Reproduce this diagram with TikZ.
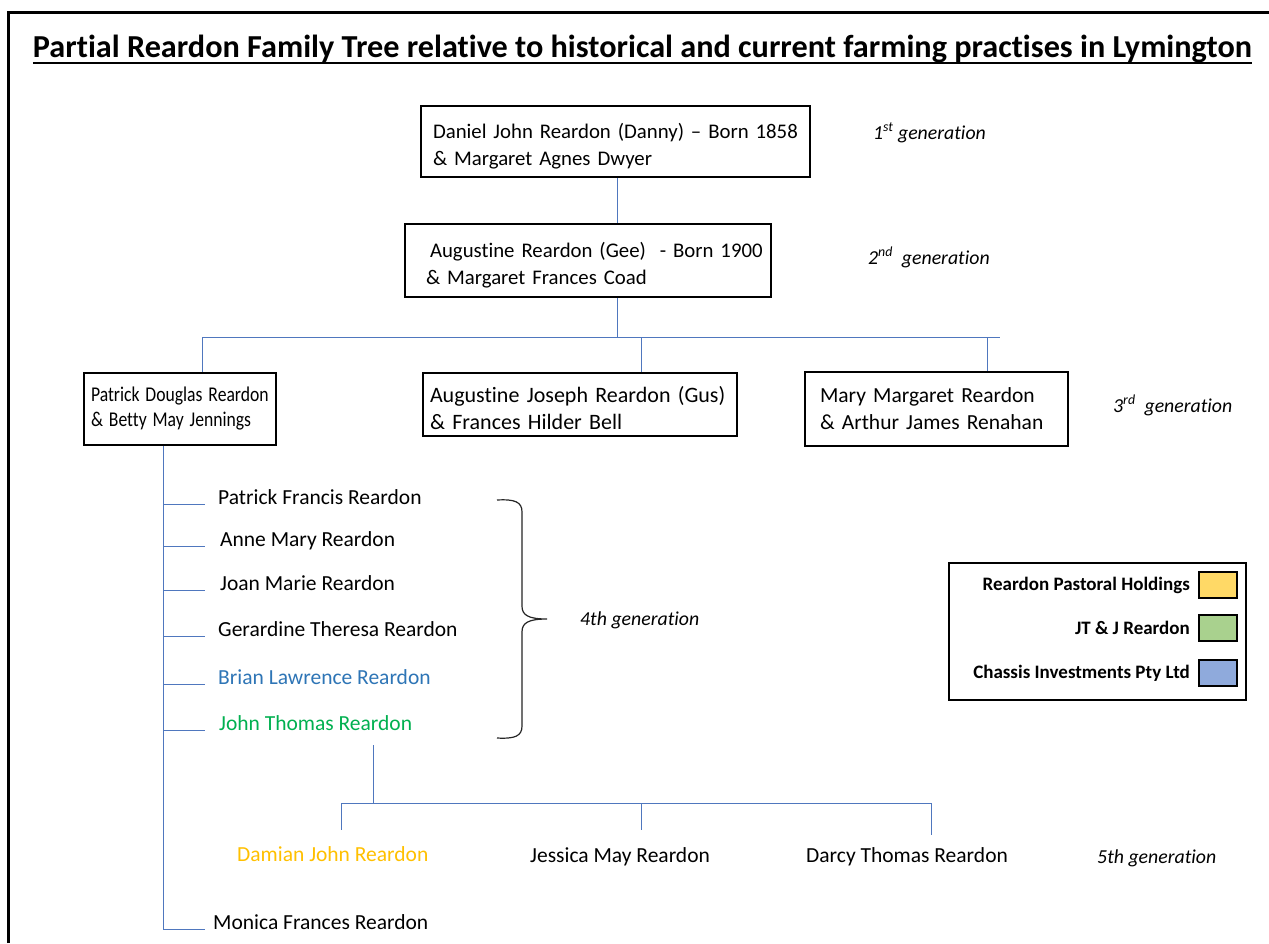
\documentclass[tikz,border=0pt]{standalone}
\usepackage{fontspec}
\setmainfont{Carlito}[Ligatures={TeX,NoCommon}]
\usepackage{graphicx}
\definecolor{linec}{HTML}{4F77BE}
\definecolor{brianc}{HTML}{2E75B6}
\definecolor{johnc}{HTML}{00B050}
\definecolor{damianc}{HTML}{FFC000}
\definecolor{swY}{HTML}{FFD966}
\definecolor{swG}{HTML}{A9D18E}
\definecolor{swB}{HTML}{8FAADC}
\tikzset{
  famline/.style={draw=linec, line width=1pt},
  box/.style={draw=black, line width=1.6pt, rectangle, align=left, inner ysep=0pt,
    font=\fontsize{21.5pt}{27pt}\selectfont},
  person/.style={anchor=base west, inner sep=0pt, font=\fontsize{21.5pt}{27pt}\selectfont},
  gen/.style={anchor=base west, inner sep=0pt, font=\fontsize{19.8pt}{24pt}\selectfont\itshape},
  legtext/.style={anchor=east, inner sep=0pt, font=\fontsize{19pt}{23pt}\selectfont\bfseries},
  swatch/.style={draw=black, line width=1.2pt, minimum width=38pt, minimum height=26pt, inner sep=0pt}
}
\begin{document}
\begin{tikzpicture}[x=1pt,y=-1pt]
\useasboundingbox (0,0) rectangle (1269,943);
\fill[white] (0,0) rectangle (1269,943);
% outer frame
\draw[line width=3pt] (8,943) -- (8,12) -- (1269,12);

% title
\node[anchor=base, inner sep=0pt] (title) at (642.5,57)
  {\resizebox{1219pt}{\height}{\fontsize{32pt}{38pt}\selectfont\bfseries Partial Reardon Family Tree relative to historical and current farming practises in Lymington}};
\draw[line width=1.8pt] ([yshift=-6pt]title.base west) -- ([yshift=-6pt]title.base east);

% generation 1 and 2
\node[box, text width=365pt, inner xsep=12pt, minimum height=71pt, font=\fontsize{20.8pt}{27pt}\selectfont] (g1) at (615.5,141.5)
  {\mbox{\rule{0pt}{24pt}Daniel John Reardon (Danny) – Born 1858}\\\mbox{\& Margaret Agnes Dwyer}};
\node[box, text width=324pt, inner xsep=21pt, minimum height=73pt, font=\fontsize{20.8pt}{27pt}\selectfont] (g2) at (588,260.5)
  {\mbox{\rule{0pt}{24pt}\hspace*{4pt}Augustine Reardon (Gee)\ \ - Born 1900}\\\mbox{\& Margaret Frances Coad}};

\node[gen] (gen1) at (873,139) {1\textsuperscript{st} generation};
\node[gen] (gen2) at (868,264) {2\textsuperscript{nd}\ \ generation};

% generation 3
\node[box, text width=178pt, inner xsep=7pt, minimum height=72pt, font=\fontsize{21pt}{25pt}\selectfont] (c3a) at (180,409)
  {\scalebox{0.84}[1]{Patrick Douglas Reardon}\\\scalebox{0.84}[1]{\& Betty May Jennings}};
\node[box, text width=300pt, inner xsep=7pt, minimum height=63pt, font=\fontsize{22pt}{27pt}\selectfont] (c3b) at (580,404.5)
  {\mbox{\rule{0pt}{22.5pt}Augustine Joseph Reardon (Gus)}\\\mbox{\& Frances Hilder Bell}};
\node[box, text width=233pt, inner xsep=15pt, minimum height=74pt] (c3c) at (936.5,409)
  {\mbox{Mary Margaret Reardon}\\\mbox{\& Arthur James Renahan}};
\node[gen] (gen3) at (1113,412) {3\textsuperscript{rd}\ \ generation};

% connectors gen1-gen3
\coordinate (bus) at (617,337);
\coordinate (busL) at (202,337);
\coordinate (busM) at (641,337);
\coordinate (busR) at (987,337);
\coordinate (busE) at (1000,337);
\draw[famline] (bus |- g1.south) -- (bus |- g2.north);
\draw[famline] (bus |- g2.south) -- (bus);
\draw[famline] (busL) -- (busE);
\draw[famline] (busL) -- (busL |- c3a.north);
\draw[famline] (busM) -- (busM |- c3b.north);
\draw[famline] (busR) -- (busR |- c3c.north);

% generation 4
\node[person] (p1) at (218,504) {Patrick Francis Reardon};
\node[person] (p2) at (220,546) {Anne Mary Reardon};
\node[person] (p3) at (220,590) {Joan Marie Reardon};
\node[person] (p4) at (218,636) {Gerardine Theresa Reardon};
\node[person, text=brianc] (p5) at (218,684) {Brian Lawrence Reardon};
\node[person, text=johnc] (p6) at (219,730) {John Thomas Reardon};
\node[person] (monica) at (213,929) {Monica Frances Reardon};

\coordinate (trunk) at (163,445);
\draw[famline] (trunk |- c3a.south) -- (trunk |- monica.base);
\foreach \n in {p1,p2,p3,p4,p5,p6} {
  \draw[famline] (trunk |- \n.base) -- (205,0 |- \n.base);
}
\draw[famline] (trunk |- monica.base) -- (205,0 |- monica.base);

% brace
\draw[line width=1.2pt, black!85] (497,500) .. controls (515,499) and (522,502) .. (522,512)
  -- (522,606) .. controls (522,615) and (528,619) .. (547,619)
  .. controls (528,619) and (522,623) .. (522,632)
  -- (522,726) .. controls (522,736) and (515,739) .. (497,738);
\node[gen] (gen4) at (580,625) {4th generation};

% generation 5
\node[person, text=damianc] (d1) at (237,861) {Damian John Reardon};
\node[person] (d2) at (530,862) {Jessica May Reardon};
\node[person] (d3) at (806,862) {Darcy Thomas Reardon};
\node[gen] (gen5) at (1097,863) {5th generation};

\coordinate (jtd) at (373,745);
\coordinate (b5T) at (373,803);
\coordinate (b5L) at (341,803);
\coordinate (b5M) at (641,803);
\coordinate (b5R) at (931,803);
\coordinate (e5L) at (341,830);
\coordinate (e5M) at (641,830);
\coordinate (e5R) at (931,835);
\draw[famline] (jtd) -- (b5T);
\draw[famline] (b5L) -- (b5R);
\draw[famline] (b5L) -- (e5L);
\draw[famline] (b5M) -- (e5M);
\draw[famline] (b5R) -- (e5R);

% legend
\node[draw=black, line width=1.5pt, minimum width=297pt, minimum height=137pt, inner sep=0pt] (legend) at (1097.5,631.5) {};
\node[legtext] (l1) at (1190,585) {Reardon Pastoral Holdings};
\node[legtext] (l2) at (1190,628) {JT \& J Reardon};
\node[legtext] (l3) at (1190,673) {Chassis Investments Pty Ltd};
\node[swatch, fill=swY] (s1) at (1218,585) {};
\node[swatch, fill=swG] (s2) at (1218,628) {};
\node[swatch, fill=swB] (s3) at (1218,673) {};
\end{tikzpicture}
\end{document}
